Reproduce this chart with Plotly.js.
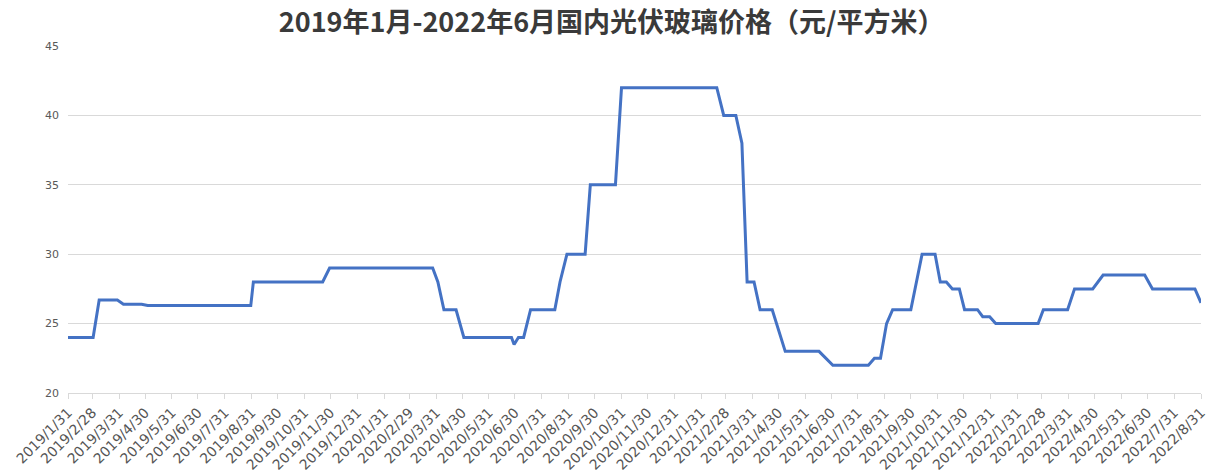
<!DOCTYPE html>
<html>
<head>
<meta charset="utf-8">
<script src="https://cdn.plot.ly/plotly-3.0.1.min.js"></script>
<style>
html,body{margin:0;padding:0;background:#fff;}
#chart{width:1216px;height:476px;}
</style>
</head>
<body>
<div id="chart"></div>
<script>
// Weekly price turning points (元/平方米)
const dates = [
  '2019-01-31','2019-03-01','2019-03-08','2019-03-29','2019-04-05','2019-04-26','2019-05-03',
  '2019-08-30','2019-09-02','2019-11-21','2019-11-29','2020-03-27','2020-04-02','2020-04-09',
  '2020-04-23','2020-05-02','2020-06-26','2020-06-29','2020-07-04','2020-07-10','2020-07-18',
  '2020-08-15','2020-08-21','2020-08-29','2020-09-19','2020-09-25','2020-10-24','2020-10-31',
  '2021-02-18','2021-02-26','2021-03-12','2021-03-19','2021-03-25','2021-04-02','2021-04-09',
  '2021-04-23','2021-05-08','2021-06-16','2021-07-02','2021-08-12','2021-08-19','2021-08-26',
  '2021-09-02','2021-09-09','2021-09-30','2021-10-13','2021-10-28','2021-11-03','2021-11-10',
  '2021-11-17','2021-11-25','2021-12-01','2021-12-16','2021-12-22','2021-12-30','2022-01-06',
  '2022-02-24','2022-03-02','2022-03-30','2022-04-07','2022-04-28','2022-05-10','2022-06-27',
  '2022-07-06','2022-08-24','2022-08-31'
];
const prices = [
  24, 24, 26.7, 26.7, 26.4, 26.4, 26.3,
  26.3, 28, 28, 29, 29, 28, 26,
  26, 24, 24, 23.5, 24, 24, 26,
  26, 28, 30, 30, 35, 35, 42,
  42, 40, 40, 38, 28, 28, 26,
  26, 23, 23, 22, 22, 22.5, 22.5,
  25, 26, 26, 30, 30, 28, 28,
  27.5, 27.5, 26, 26, 25.5, 25.5, 25,
  25, 26, 26, 27.5, 27.5, 28.5, 28.5,
  27.5, 27.5, 26.5
];
const tickLabels = [
  '2019/1/31','2019/2/28','2019/3/31','2019/4/30','2019/5/31','2019/6/30','2019/7/31','2019/8/31',
  '2019/9/30','2019/10/31','2019/11/30','2019/12/31','2020/1/31','2020/2/29','2020/3/31','2020/4/30',
  '2020/5/31','2020/6/30','2020/7/31','2020/8/31','2020/9/30','2020/10/31','2020/11/30','2020/12/31',
  '2021/1/31','2021/2/28','2021/3/31','2021/4/30','2021/5/31','2021/6/30','2021/7/31','2021/8/31',
  '2021/9/30','2021/10/31','2021/11/30','2021/12/31','2022/1/31','2022/2/28','2022/3/31','2022/4/30',
  '2022/5/31','2022/6/30','2022/7/31','2022/8/31'
];
const yTicks = [20, 25, 30, 35, 40, 45];
const titleText = '2019年1月-2022年6月国内光伏玻璃价格（元/平方米）';

const tickVals = tickLabels.map(s => {
  const p = s.split('/');
  return p[0] + '-' + p[1].padStart(2, '0') + '-' + p[2].padStart(2, '0');
});

const trace = {
  x: dates, y: prices, type: 'scatter', mode: 'lines',
  line: {color: '#4472C4', width: 3},
  hoverinfo: 'x+y'
};

const layout = {
  width: 1216, height: 476,
  margin: {l: 68, r: 15, t: 46, b: 83},
  paper_bgcolor: '#ffffff', plot_bgcolor: '#ffffff',
  showlegend: false,
  title: {
    text: titleText,
    x: 0.503, xanchor: 'center', y: 0.952, yanchor: 'middle',
    font: {family: '"Noto Sans CJK SC", sans-serif', size: 27, color: '#3a3a3a', weight: 700}
  },
  xaxis: {
    type: 'date',
    range: [tickVals[0], tickVals[tickVals.length - 1]],
    tickmode: 'array', tickvals: tickVals, ticktext: tickLabels,
    tickangle: -45,
    tickfont: {family: '"DejaVu Sans", sans-serif', size: 14, color: '#555555'},
    showgrid: false, zeroline: false,
    showline: true, linecolor: '#d9d9d9', linewidth: 1,
    ticks: 'outside', ticklen: 5, tickcolor: '#d9d9d9', tickwidth: 1
  },
  yaxis: {
    range: [20, 45], tickmode: 'array', tickvals: yTicks,
    tickfont: {family: '"DejaVu Sans", sans-serif', size: 11, color: '#595959'},
    showgrid: true, gridcolor: '#d9d9d9', gridwidth: 1,
    zeroline: false, showline: false, ticks: '',
    ticklabelstandoff: 8
  }
};

Plotly.newPlot('chart', [trace], layout, {displayModeBar: false, staticPlot: true});
</script>
</body>
</html>
